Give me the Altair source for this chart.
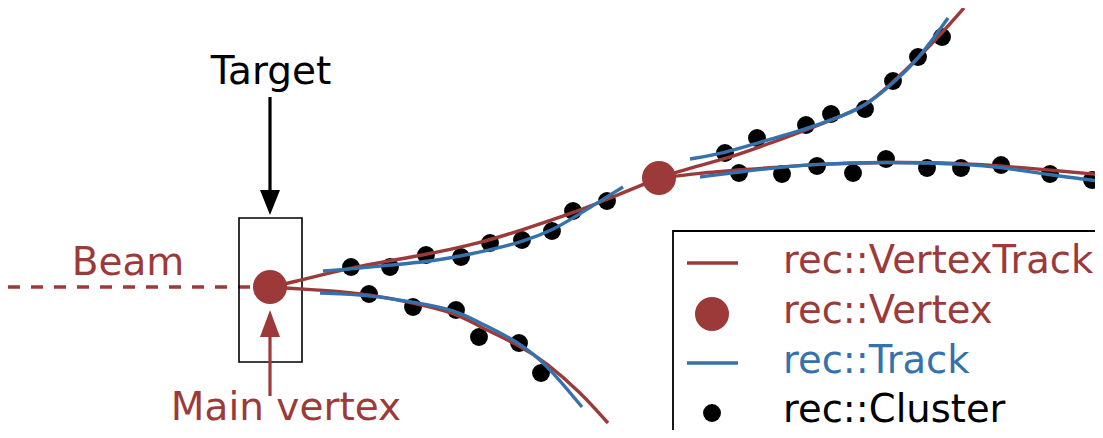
import altair as alt
import pandas as pd

RED = "#9c3a3a"
BLUE = "#3572ad"
FONT = "DejaVu Sans"

# ---- data (picture coordinates, y downward) ----
# rec::VertexTrack curves (red)
vt1_x = [270, 290, 352, 425, 480, 522, 573, 613, 659]
vt1_y = [287, 283, 267, 255, 243, 230, 213, 197, 178]
vt2_x = [270, 320, 369, 413, 456, 480, 519, 547, 580, 608]
vt2_y = [287, 290, 294, 303, 313, 327, 345, 363, 392, 423]
vt3_x = [659, 690, 725, 757, 806, 831, 865, 893, 918, 942, 964]
vt3_y = [178, 168, 159, 148, 130, 120, 107, 82, 58, 33, 8]
vt4_x = [659, 700, 739, 817, 886, 961, 1001, 1050, 1103]
vt4_y = [178, 173, 170, 164, 162, 163, 166, 170, 175]

# rec::Track curves (blue)
tr1_x = [323, 352, 390, 425, 461, 490, 522, 553, 573, 623]
tr1_y = [271, 269, 265, 262, 256, 250, 242, 230, 218, 187]
tr2_x = [320, 369, 413, 456, 480, 519, 547, 582]
tr2_y = [293, 295, 302, 310, 323, 342, 365, 407]
tr3_x = [690, 725, 757, 806, 831, 865, 893, 918, 948]
tr3_y = [159, 153, 143, 129, 120, 107, 83, 60, 18]
tr4_x = [700, 739, 782, 817, 886, 927, 961, 1001, 1050, 1092, 1103]
tr4_y = [177, 172, 167, 164, 162, 163, 164, 167, 175, 180, 182]

# rec::Cluster hits
cl_x = [351, 390, 426, 461, 490, 522, 552, 573, 607,
        369, 413, 456, 479, 519, 541,
        725, 757, 806, 831, 865, 893, 918, 942,
        739, 782, 817, 853, 886, 927, 961, 1001, 1050, 1092]
cl_y = [267, 267, 255, 257, 243, 240, 231, 211, 201,
        294, 307, 310, 337, 343, 373,
        153, 138, 125, 114, 109, 81, 57, 37,
        173, 174, 166, 173, 159, 168, 168, 165, 174, 180]

# rec::Vertex positions
vx_x = [270, 659]
vx_y = [287, 178]

# legend entries
leg_labels = ["rec::VertexTrack", "rec::Vertex", "rec::Track", "rec::Cluster"]
leg_colors = [RED, RED, BLUE, "black"]
leg_y = [263, 314, 363, 413]
leg_base = [273, 323, 373, 422]

# annotation labels
ann_text = ["Target", "Beam", "Main vertex"]
ann_x = [271, 128, 286]
ann_y = [84, 275, 420]
ann_col = ["black", RED, RED]

XS = alt.Scale(domain=[8, 1095], nice=False, zero=False)
YS = alt.Scale(domain=[430, 8], nice=False, zero=False)


def X(f="x"):
    return alt.X(f"{f}:Q", scale=XS, axis=None)


def Y(f="y"):
    return alt.Y(f"{f}:Q", scale=YS, axis=None)


def curves(xs_ys):
    rows = []
    for i, (xs, ys) in enumerate(xs_ys):
        for a, b in zip(xs, ys):
            rows.append({"t": i, "x": a, "y": b})
    return pd.DataFrame(rows)


red_df = curves([(vt1_x, vt1_y), (vt2_x, vt2_y), (vt3_x, vt3_y), (vt4_x, vt4_y)])
blue_df = curves([(tr1_x, tr1_y), (tr2_x, tr2_y), (tr3_x, tr3_y), (tr4_x, tr4_y)])
cl_df = pd.DataFrame({"x": cl_x, "y": cl_y})
vx_df = pd.DataFrame({"x": vx_x, "y": vx_y})

# beam line
beam = alt.Chart(pd.DataFrame({"x": [8], "x2": [252], "y": [287]})).mark_rule(
    color=RED, strokeWidth=3.5, strokeDash=[12, 11]
).encode(x=X(), x2="x2:Q", y=Y())

# target box
box = alt.Chart(pd.DataFrame({"x": [239], "x2": [302], "y": [218], "y2": [362]})).mark_rect(
    filled=False, stroke="black", strokeWidth=1.6
).encode(x=X(), x2="x2:Q", y=Y(), y2="y2:Q")

# legend box
legbox = alt.Chart(pd.DataFrame({"x": [673], "x2": [1120], "y": [231], "y2": [460]})).mark_rect(
    filled=False, stroke="black", strokeWidth=1.8, clip=True
).encode(x=X(), x2="x2:Q", y=Y(), y2="y2:Q")

# arrows
arrow_df = pd.DataFrame({"x": [270, 270], "y": [97, 396], "y2": [196, 330],
                         "c": ["black", RED]})
arrows = alt.Chart(arrow_df).mark_rule(strokeWidth=3.2).encode(
    x=X(), y=Y(), y2="y2:Q", color=alt.Color("c:N", scale=None)
)
head_down = alt.Chart(pd.DataFrame({"x": [270], "y": [202.5]})).mark_point(
    shape="M-0.8,-1L0.8,-1L0,1Z", size=625, filled=True, color="black", opacity=1
).encode(x=X(), y=Y())
head_up = alt.Chart(pd.DataFrame({"x": [270], "y": [323.5]})).mark_point(
    shape="M-0.74,1L0.74,1L0,-1Z", size=729, filled=True, color=RED, opacity=1
).encode(x=X(), y=Y())

clusters = alt.Chart(cl_df).mark_circle(size=320, color="black", opacity=1).encode(x=X(), y=Y())

red_lines = alt.Chart(red_df).mark_line(
    color=RED, strokeWidth=3.4, interpolate="basis", clip=True
).encode(x=X(), y=Y(), detail="t:N")
blue_lines = alt.Chart(blue_df).mark_line(
    color=BLUE, strokeWidth=3.4, interpolate="basis", clip=True
).encode(x=X(), y=Y(), detail="t:N")

vertices = alt.Chart(vx_df).mark_circle(size=1160, color=RED, opacity=1).encode(x=X(), y=Y())

ann = alt.Chart(pd.DataFrame({"x": ann_x, "y": ann_y, "t": ann_text, "c": ann_col})).mark_text(
    font=FONT, fontSize=39, align="center", baseline="alphabetic"
).encode(x=X(), y=Y(), text="t:N", color=alt.Color("c:N", scale=None))

# legend symbols
leg_line_df = pd.DataFrame({"x": [687, 687], "x2": [738, 738],
                            "y": [leg_y[0], leg_y[2]], "c": [leg_colors[0], leg_colors[2]]})
leg_lines = alt.Chart(leg_line_df).mark_rule(strokeWidth=3.4).encode(
    x=X(), x2="x2:Q", y=Y(), color=alt.Color("c:N", scale=None)
)
leg_dots_df = pd.DataFrame({"x": [712, 712], "y": [leg_y[1], leg_y[3]],
                            "c": [leg_colors[1], leg_colors[3]], "s": [1160, 320]})
leg_dots = alt.Chart(leg_dots_df).mark_circle(opacity=1).encode(
    x=X(), y=Y(), color=alt.Color("c:N", scale=None), size=alt.Size("s:Q", scale=None)
)
leg_txt_df = pd.DataFrame({"x": [783] * 4, "y": leg_base, "t": leg_labels, "c": leg_colors})
leg_txt = alt.Chart(leg_txt_df).mark_text(
    font=FONT, fontSize=38.5, align="left", baseline="alphabetic"
).encode(x=X(), y=Y(), text="t:N", color=alt.Color("c:N", scale=None))

chart = alt.layer(
    beam, box, arrows, head_down, head_up, clusters, red_lines, blue_lines, vertices,
    ann, legbox, leg_lines, leg_dots, leg_txt
).properties(
    width=1087, height=422, autosize=alt.AutoSizeParams(type="none"), padding=0,
    background="white"
).configure_view(stroke=None)

chart.save("out.html", embed_options={"renderer": "svg", "actions": False})
